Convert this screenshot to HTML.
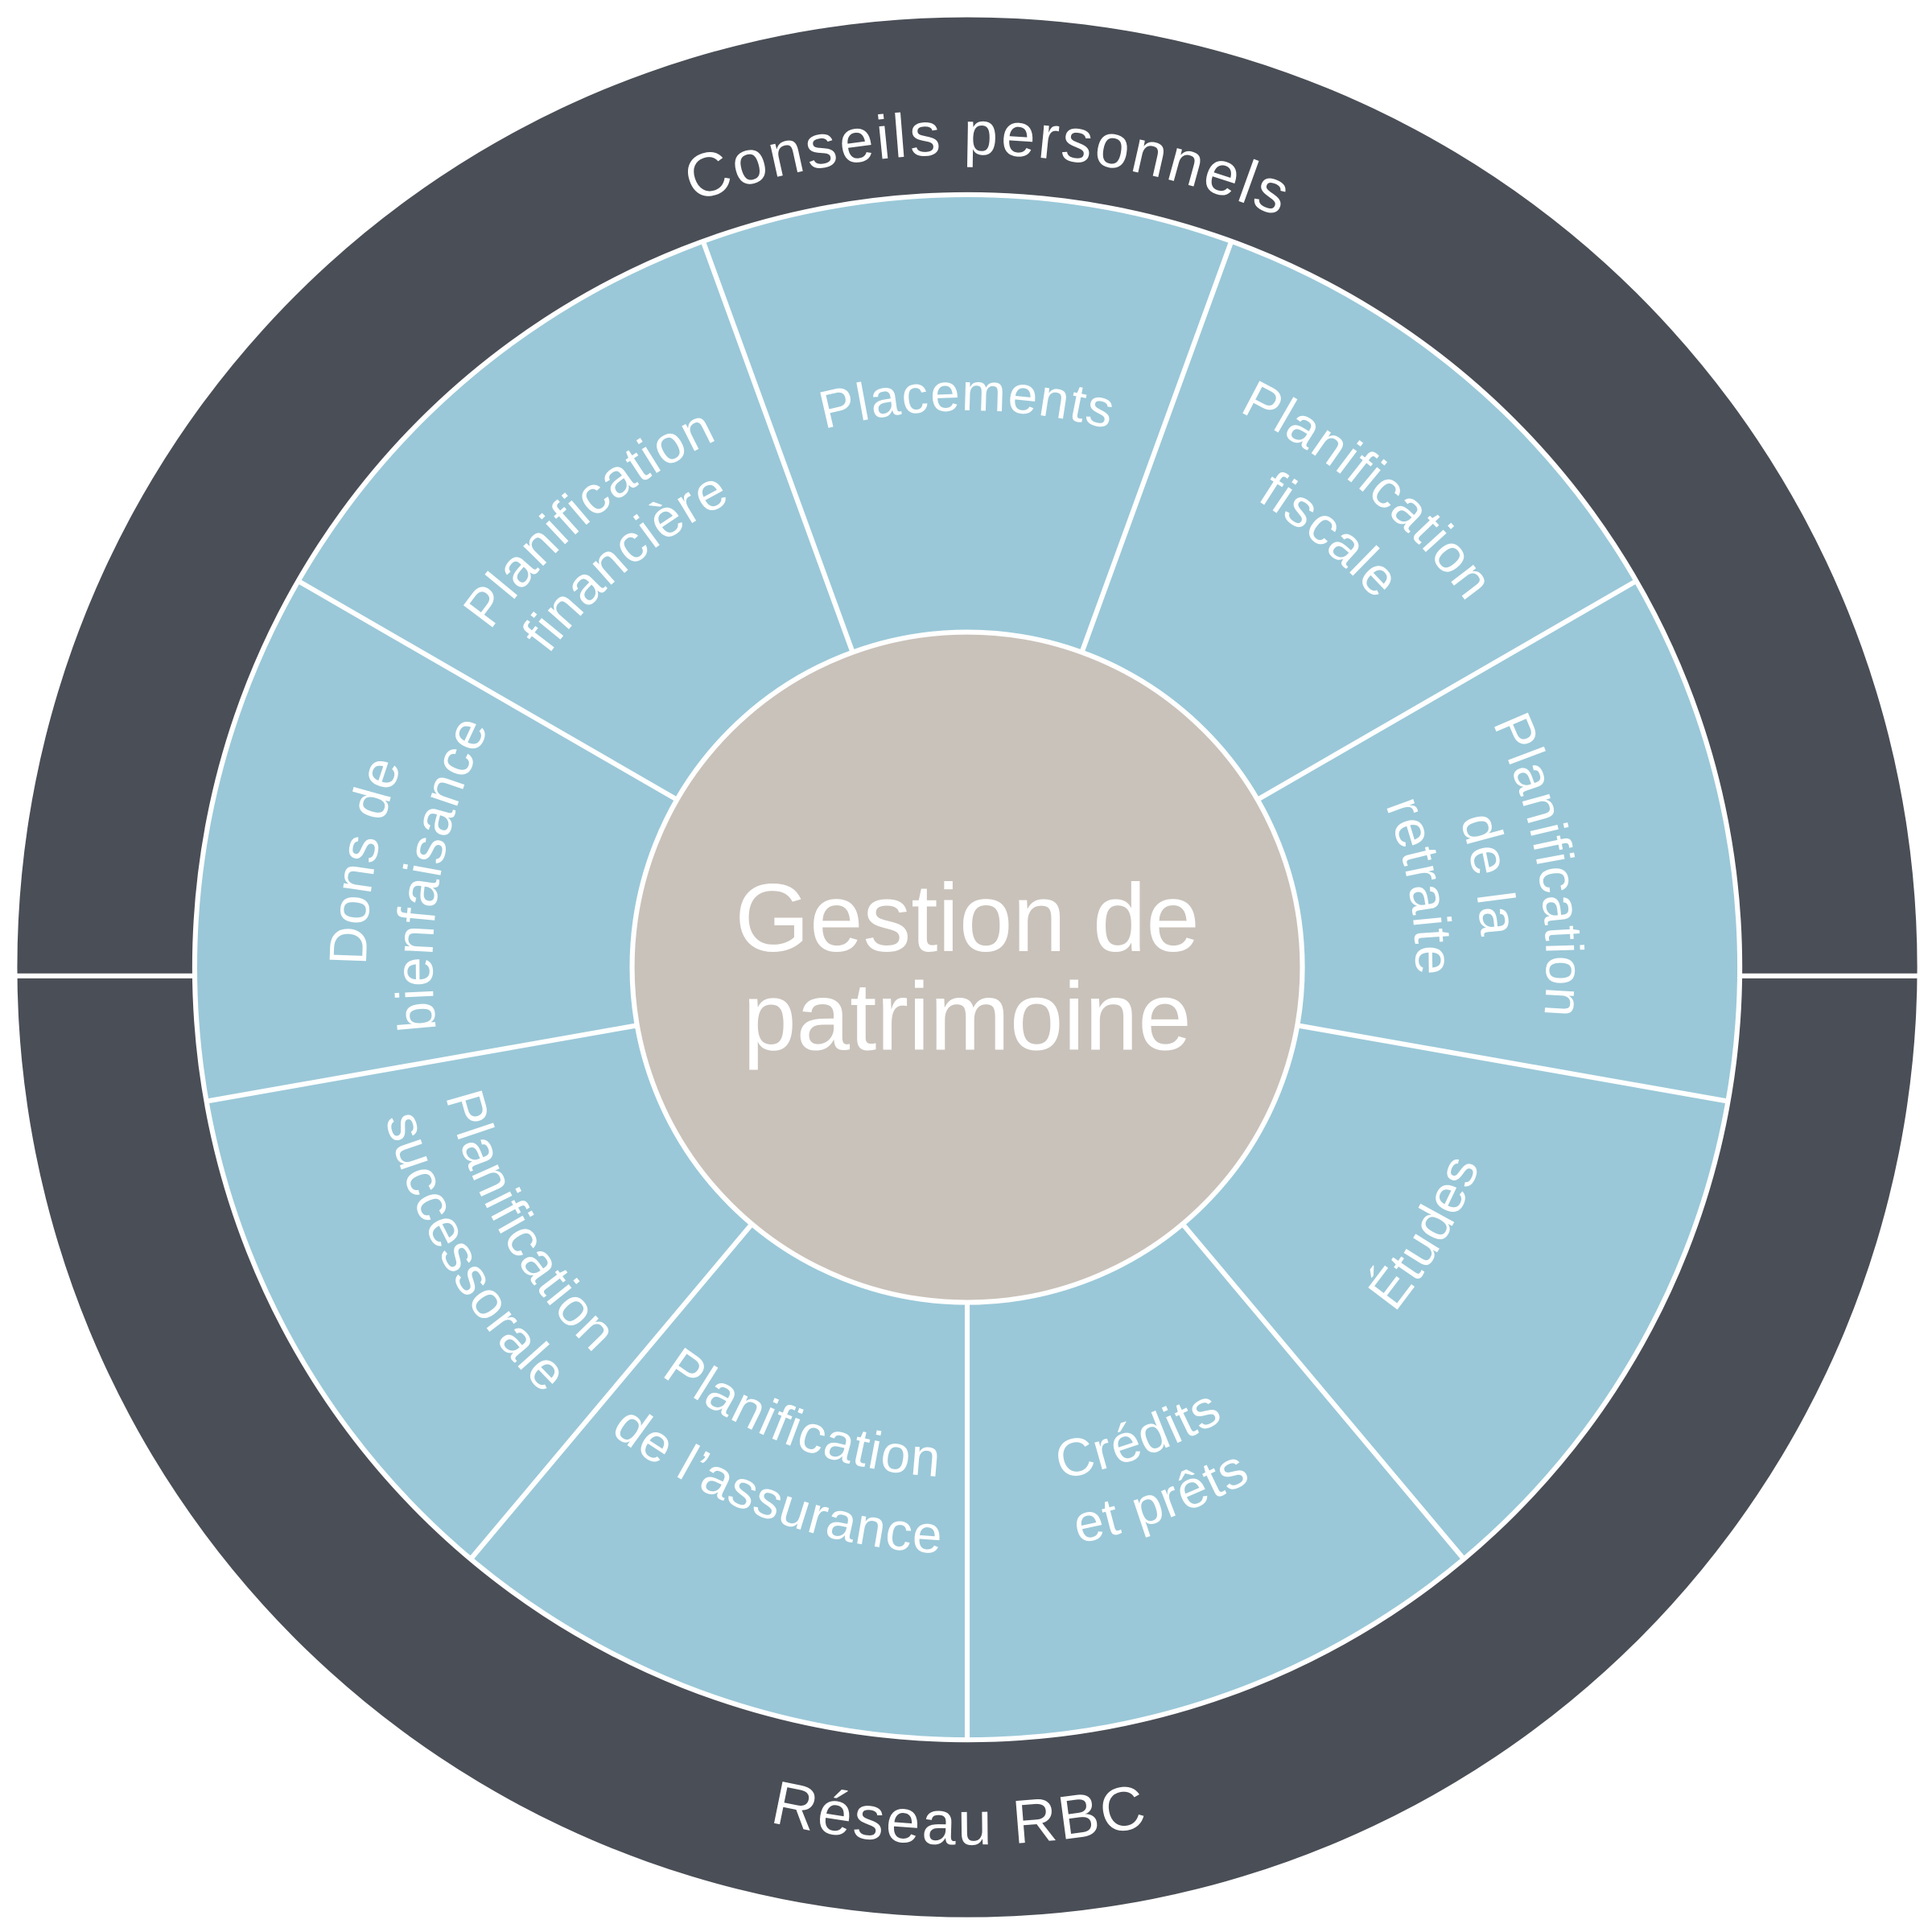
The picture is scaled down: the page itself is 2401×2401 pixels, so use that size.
<!DOCTYPE html>
<html><head><meta charset="utf-8"><style>
html,body{margin:0;padding:0;background:#fff;}
svg{display:block;}
text{font-family:"Liberation Sans",sans-serif;fill:#fff;}
</style></head><body>
<svg width="2401" height="2401" viewBox="0 0 1568 1568" xmlns="http://www.w3.org/2000/svg">
<defs>
<path id="cw660" d="M125,785 A660,660 0 0 1 1445,785"/>
<path id="ccw712" d="M73,785 A712,712 0 0 0 1497,785"/>
<path id="cw452" d="M333,785 A452,452 0 0 1 1237,785"/>
<path id="cw474" d="M311,785 A474,474 0 0 1 1259,785"/>
<path id="cw418" d="M367,785 A418,418 0 0 1 1203,785"/>
<path id="cw424" d="M361,785 A424,424 0 0 1 1209,785"/>
<path id="cw502" d="M283,785 A502,502 0 0 1 1287,785"/>
<path id="cw446" d="M339,785 A446,446 0 0 1 1231,785"/>
<path id="cw470" d="M315,785 A470,470 0 0 1 1255,785"/>
<path id="cw364" d="M421,785 A364,364 0 0 1 1149,785"/>
<path id="cw488" d="M297,785 A488,488 0 0 1 1273,785"/>
<path id="cw434" d="M351,785 A434,434 0 0 1 1219,785"/>
<path id="ccw446" d="M339,785 A446,446 0 0 0 1231,785"/>
<path id="ccw422" d="M363,785 A422,422 0 0 0 1207,785"/>
<path id="ccw476" d="M309,785 A476,476 0 0 0 1261,785"/>
<path id="ccw414" d="M371,785 A414,414 0 0 0 1199,785"/>
<path id="ccw436" d="M349,785 A436,436 0 0 0 1221,785"/>
<path id="ccw488" d="M297,785 A488,488 0 0 0 1273,785"/>
</defs>
<circle cx="785" cy="785" r="771" fill="#4a4e56"/>
<line x1="10" y1="792" x2="160" y2="792" stroke="#fff" stroke-width="4"/>
<line x1="1410" y1="792" x2="1560" y2="792" stroke="#fff" stroke-width="4"/>
<circle cx="785" cy="785" r="627" fill="#9ac8d8" stroke="#fff" stroke-width="4"/>
<g stroke="#fff" stroke-width="4">
<line x1="1052.9" y1="832.2" x2="1402.5" y2="893.8"/>
<line x1="959.8" y1="993.4" x2="1188" y2="1265.3"/>
<line x1="785" y1="1057" x2="785" y2="1412"/>
<line x1="610.2" y1="993.4" x2="382" y2="1265.3"/>
<line x1="517.1" y1="832.2" x2="167.5" y2="893.8"/>
<line x1="549.4" y1="649" x2="242" y2="471.5"/>
<line x1="692" y1="529.4" x2="570.6" y2="195.8"/>
<line x1="878" y1="529.4" x2="999.4" y2="195.8"/>
<line x1="1020.6" y1="649" x2="1328" y2="471.5"/>
</g>
<circle cx="785" cy="785" r="272" fill="#c9c2ba" stroke="#fff" stroke-width="4"/>
<text x="785" y="772" font-size="78" text-anchor="middle">Gestion de</text>
<text x="785" y="852" font-size="78" text-anchor="middle">patrimoine</text>

<text font-size="50" letter-spacing="2" transform="rotate(1.5 785 785)"><textPath href="#cw660" startOffset="50%" text-anchor="middle">Conseils personnels</textPath></text>
<text font-size="50" letter-spacing="2" transform="rotate(0.5 785 785)"><textPath href="#ccw712" startOffset="50%" text-anchor="middle">Réseau RBC</textPath></text>

<g font-size="43" letter-spacing="1">
<text><textPath href="#cw452" startOffset="50%" text-anchor="middle">Placements</textPath></text>
<text transform="rotate(40 785 785)"><textPath href="#cw502" startOffset="50%" text-anchor="middle">Planification</textPath></text>
<text transform="rotate(40 785 785)"><textPath href="#cw446" startOffset="50%" text-anchor="middle">fiscale</textPath></text>
<text transform="rotate(80 785 785)"><textPath href="#cw470" startOffset="50%" text-anchor="middle">Planification</textPath></text>
<text transform="rotate(80 785 785)"><textPath href="#cw418" startOffset="50%" text-anchor="middle">de la</textPath></text>
<text transform="rotate(80 785 785)"><textPath href="#cw364" startOffset="50%" text-anchor="middle">retraite</textPath></text>
<text transform="rotate(-40 785 785)"><textPath href="#cw474" startOffset="50%" text-anchor="middle">Planification</textPath></text>
<text transform="rotate(-40 785 785)"><textPath href="#cw424" startOffset="50%" text-anchor="middle">financière</textPath></text>
<text transform="rotate(-80 785 785)"><textPath href="#cw488" startOffset="50%" text-anchor="middle">Dons de</textPath></text>
<text transform="rotate(-80 785 785)"><textPath href="#cw434" startOffset="50%" text-anchor="middle">bienfaisance</textPath></text>
<text transform="rotate(-60 785 785)"><textPath href="#ccw446" startOffset="50%" text-anchor="middle">Études</textPath></text>
<text transform="rotate(-20 785 785)"><textPath href="#ccw422" startOffset="50%" text-anchor="middle">Crédits</textPath></text>
<text transform="rotate(-20 785 785)"><textPath href="#ccw476" startOffset="50%" text-anchor="middle">et prêts</textPath></text>
<text transform="rotate(20 785 785)"><textPath href="#ccw414" startOffset="50%" text-anchor="middle">Planification</textPath></text>
<text transform="rotate(20 785 785)"><textPath href="#ccw476" startOffset="50%" text-anchor="middle">de l’assurance</textPath></text>
<text transform="rotate(60 785 785)"><textPath href="#ccw436" startOffset="50%" text-anchor="middle">Planification</textPath></text>
<text transform="rotate(60 785 785)"><textPath href="#ccw488" startOffset="50%" text-anchor="middle">successorale</textPath></text>
</g>
</svg>
</body></html>
